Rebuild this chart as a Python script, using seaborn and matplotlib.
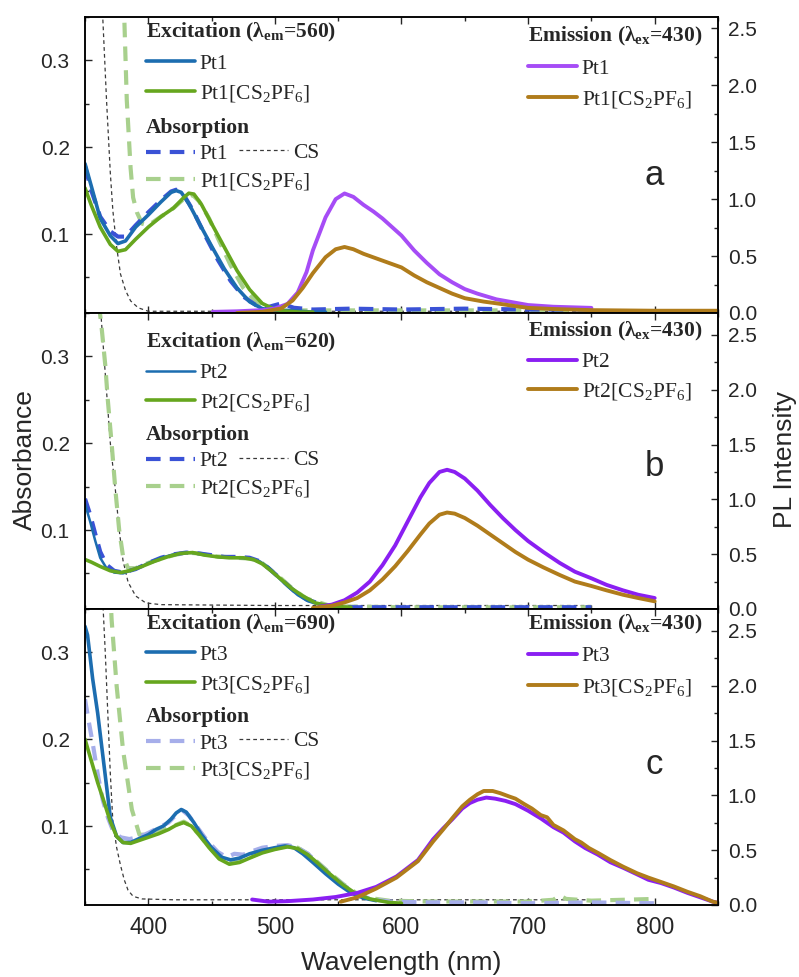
import numpy as np
import pandas as pd
import matplotlib
matplotlib.use("Agg")
import matplotlib.pyplot as plt
from matplotlib.ticker import MultipleLocator, FixedLocator
import seaborn as sns

# ---------------- DATA ----------------
# Panel a (Pt1)
a_ex_pt_x = [350, 355, 362, 370, 376, 382, 390, 400, 410, 418, 422, 426, 432, 440, 450, 460, 470, 480, 490, 500, 510, 520, 530, 540]
a_ex_pt_y = [0.181, 0.155, 0.118, 0.098, 0.089, 0.092, 0.108, 0.122, 0.137, 0.148, 0.150, 0.148, 0.135, 0.113, 0.086, 0.060, 0.038, 0.022, 0.014, 0.012, 0.012, 0.011, 0.010, 0.010]
a_ex_cs_x = [350, 355, 362, 370, 376, 382, 390, 400, 410, 420, 428, 432, 436, 442, 450, 460, 470, 480, 490, 500, 510, 520, 530]
a_ex_cs_y = [0.153, 0.133, 0.108, 0.088, 0.080, 0.082, 0.094, 0.108, 0.120, 0.130, 0.142, 0.147, 0.146, 0.134, 0.112, 0.085, 0.058, 0.036, 0.020, 0.013, 0.011, 0.010, 0.010]
a_abs_pt_x = [350, 355, 362, 370, 376, 382, 390, 400, 410, 418, 422, 428, 435, 445, 455, 465, 475, 485, 495, 505, 515, 530, 560, 600, 650, 700, 750]
a_abs_pt_y = [0.178, 0.150, 0.120, 0.103, 0.097, 0.097, 0.110, 0.125, 0.139, 0.149, 0.151, 0.145, 0.128, 0.098, 0.070, 0.046, 0.028, 0.018, 0.016, 0.020, 0.015, 0.013, 0.014, 0.013, 0.014, 0.013, 0.013]
a_abs_cs_x = [379, 381, 383, 386, 388, 391, 395, 400, 410, 420, 430, 435, 440, 448, 455, 465, 475, 485, 495, 510, 550, 600, 650, 700, 750]
a_abs_cs_y = [0.420, 0.350, 0.254, 0.176, 0.142, 0.125, 0.112, 0.110, 0.120, 0.130, 0.143, 0.145, 0.138, 0.118, 0.095, 0.064, 0.038, 0.022, 0.014, 0.012, 0.012, 0.012, 0.012, 0.012, 0.012]
a_cs_x = [362, 364, 367, 370, 372, 375, 378, 382, 386, 392, 400, 450, 500, 600, 700, 750]
a_cs_y = [0.420, 0.350, 0.254, 0.170, 0.127, 0.085, 0.054, 0.035, 0.023, 0.015, 0.011, 0.011, 0.011, 0.011, 0.011, 0.011]
a_em_pt_x = [451, 470, 490, 500, 510, 518, 525, 530, 540, 548, 555, 562, 570, 578, 585, 592, 600, 610, 620, 630, 640, 650, 660, 675, 690, 700, 720, 750]
a_em_pt_y = [0.010, 0.015, 0.025, 0.040, 0.080, 0.180, 0.360, 0.550, 0.840, 1.000, 1.050, 1.020, 0.950, 0.890, 0.830, 0.760, 0.680, 0.550, 0.440, 0.340, 0.270, 0.210, 0.170, 0.120, 0.090, 0.070, 0.055, 0.045]
a_em_cs_x = [470, 490, 505, 514, 522, 530, 540, 548, 555, 562, 570, 580, 590, 600, 610, 620, 630, 640, 650, 665, 675, 690, 700, 720, 750, 800, 850]
a_em_cs_y = [0.000, 0.010, 0.040, 0.110, 0.220, 0.350, 0.490, 0.560, 0.580, 0.560, 0.520, 0.480, 0.440, 0.400, 0.330, 0.270, 0.220, 0.170, 0.130, 0.100, 0.085, 0.060, 0.045, 0.035, 0.025, 0.020, 0.020]

# Panel b (Pt2)
b_ex_pt_x = [350, 354, 358, 362, 367, 373, 380, 390, 400, 410, 420, 430, 440, 450, 460, 470, 480, 488, 495, 502, 510, 518, 526, 535, 545]
b_ex_pt_y = [0.130, 0.110, 0.088, 0.068, 0.056, 0.051, 0.050, 0.055, 0.062, 0.068, 0.072, 0.074, 0.073, 0.070, 0.068, 0.068, 0.067, 0.064, 0.057, 0.046, 0.035, 0.025, 0.018, 0.014, 0.012]
b_ex_cs_x = [350, 355, 362, 370, 378, 385, 395, 405, 415, 425, 435, 445, 455, 465, 475, 483, 490, 497, 505, 513, 522, 532, 545, 560]
b_ex_cs_y = [0.066, 0.063, 0.058, 0.053, 0.051, 0.053, 0.058, 0.064, 0.069, 0.073, 0.074, 0.071, 0.069, 0.068, 0.068, 0.066, 0.061, 0.053, 0.043, 0.033, 0.024, 0.016, 0.012, 0.011]
b_abs_pt_x = [350, 354, 358, 362, 367, 373, 380, 390, 400, 410, 420, 430, 440, 450, 460, 470, 480, 488, 495, 505, 515, 525, 540, 560, 600, 650, 700, 750]
b_abs_pt_y = [0.136, 0.118, 0.096, 0.075, 0.060, 0.053, 0.051, 0.055, 0.062, 0.068, 0.072, 0.074, 0.073, 0.071, 0.069, 0.069, 0.068, 0.064, 0.056, 0.043, 0.030, 0.020, 0.013, 0.011, 0.011, 0.011, 0.011, 0.011]
b_abs_cs_x = [361, 363, 366, 368, 371, 374, 377, 380, 384, 390, 400, 410, 420, 430, 440, 450, 460, 470, 480, 488, 495, 505, 515, 525, 545, 600, 650, 700, 750]
b_abs_cs_y = [0.360, 0.335, 0.290, 0.250, 0.200, 0.146, 0.100, 0.070, 0.056, 0.056, 0.062, 0.067, 0.071, 0.074, 0.073, 0.070, 0.069, 0.068, 0.067, 0.064, 0.056, 0.044, 0.031, 0.021, 0.012, 0.011, 0.011, 0.011, 0.011]
b_cs_x = [362, 364, 367, 370, 374, 377, 380, 384, 390, 398, 410, 500, 600, 750]
b_cs_y = [0.360, 0.320, 0.260, 0.200, 0.146, 0.100, 0.065, 0.040, 0.024, 0.016, 0.014, 0.013, 0.013, 0.013]
b_em_pt_x = [535, 545, 555, 565, 575, 585, 595, 605, 615, 622, 630, 636, 642, 650, 660, 670, 680, 690, 700, 712, 725, 737, 750, 762, 775, 787, 800]
b_em_pt_y = [0.020, 0.040, 0.080, 0.150, 0.250, 0.400, 0.580, 0.800, 1.020, 1.150, 1.250, 1.270, 1.250, 1.190, 1.080, 0.950, 0.830, 0.720, 0.620, 0.520, 0.420, 0.340, 0.280, 0.220, 0.170, 0.130, 0.100]
b_em_cs_x = [530, 545, 555, 565, 575, 585, 595, 605, 615, 622, 630, 636, 642, 650, 660, 670, 680, 690, 700, 712, 725, 737, 750, 762, 775, 787, 800]
b_em_cs_y = [0.010, 0.030, 0.060, 0.100, 0.170, 0.270, 0.390, 0.530, 0.680, 0.780, 0.860, 0.880, 0.870, 0.830, 0.760, 0.680, 0.600, 0.520, 0.450, 0.380, 0.310, 0.250, 0.210, 0.170, 0.130, 0.100, 0.070]

# Panel c (Pt3)
c_ex_pt_x = [350, 352, 356, 360, 365, 370, 375, 380, 386, 392, 400, 406, 412, 418, 422, 426, 430, 436, 442, 450, 458, 465, 472, 480, 490, 500, 508, 515, 522, 530, 540, 550, 560, 570, 580]
c_ex_pt_y = [0.330, 0.320, 0.270, 0.230, 0.170, 0.110, 0.088, 0.081, 0.081, 0.085, 0.090, 0.096, 0.100, 0.108, 0.115, 0.119, 0.116, 0.104, 0.090, 0.075, 0.064, 0.061, 0.063, 0.068, 0.072, 0.075, 0.077, 0.075, 0.068, 0.058, 0.045, 0.033, 0.023, 0.017, 0.014]
c_ex_cs_x = [350, 355, 360, 365, 370, 375, 380, 386, 392, 400, 408, 416, 422, 428, 434, 440, 448, 456, 464, 472, 480, 490, 500, 510, 518, 526, 534, 544, 554, 564, 575, 590, 600]
c_ex_cs_y = [0.200, 0.175, 0.150, 0.128, 0.105, 0.088, 0.081, 0.080, 0.083, 0.087, 0.091, 0.096, 0.101, 0.104, 0.100, 0.090, 0.075, 0.062, 0.056, 0.058, 0.063, 0.069, 0.073, 0.076, 0.074, 0.067, 0.057, 0.044, 0.032, 0.022, 0.016, 0.012, 0.011]
c_abs_pt_x = [350, 353, 356, 360, 364, 368, 372, 378, 385, 392, 400, 408, 416, 422, 427, 432, 438, 446, 455, 462, 468, 475, 482, 490, 500, 510, 518, 526, 535, 545, 555, 565, 575, 590, 620, 660, 700, 750, 800]
c_abs_pt_y = [0.246, 0.220, 0.196, 0.160, 0.130, 0.110, 0.095, 0.087, 0.085, 0.087, 0.092, 0.098, 0.104, 0.113, 0.118, 0.112, 0.100, 0.084, 0.070, 0.064, 0.068, 0.067, 0.071, 0.075, 0.077, 0.078, 0.075, 0.068, 0.056, 0.043, 0.031, 0.022, 0.016, 0.013, 0.012, 0.012, 0.011, 0.012, 0.011]
c_abs_cs_x = [369, 371, 375, 380, 387, 393, 400, 410, 420, 428, 434, 440, 448, 456, 464, 472, 480, 490, 500, 510, 518, 526, 534, 544, 554, 564, 575, 590, 620, 660, 700, 720, 725, 730, 750, 800]
c_abs_cs_y = [0.400, 0.338, 0.261, 0.188, 0.119, 0.090, 0.090, 0.094, 0.100, 0.105, 0.100, 0.090, 0.076, 0.063, 0.057, 0.059, 0.064, 0.070, 0.074, 0.077, 0.075, 0.068, 0.058, 0.045, 0.033, 0.023, 0.017, 0.014, 0.013, 0.013, 0.013, 0.015, 0.020, 0.016, 0.014, 0.016]
c_cs_x = [362, 364, 366, 368, 370, 372, 375, 378, 381, 384, 388, 395, 420, 500, 600, 700, 750]
c_cs_y = [0.400, 0.360, 0.300, 0.230, 0.160, 0.105, 0.075, 0.055, 0.038, 0.026, 0.019, 0.016, 0.015, 0.015, 0.015, 0.015, 0.015]
c_em_pt_x = [482, 495, 510, 530, 548, 565, 580, 596, 613, 625, 633, 640, 648, 654, 660, 667, 674, 682, 690, 700, 710, 720, 728, 737, 745, 755, 765, 775, 786, 795, 805, 815, 826, 836, 846, 850]
c_em_pt_y = [0.050, 0.030, 0.035, 0.050, 0.073, 0.110, 0.165, 0.260, 0.410, 0.600, 0.700, 0.780, 0.880, 0.930, 0.960, 0.980, 0.970, 0.950, 0.920, 0.860, 0.790, 0.710, 0.660, 0.580, 0.520, 0.460, 0.390, 0.340, 0.280, 0.230, 0.200, 0.160, 0.110, 0.070, 0.030, 0.020]
c_em_cs_x = [552, 565, 580, 596, 613, 625, 633, 640, 648, 654, 660, 665, 672, 678, 685, 690, 697, 703, 710, 715, 720, 728, 737, 742, 748, 756, 765, 775, 786, 795, 805, 815, 826, 836, 846, 850]
c_em_cs_y = [0.030, 0.070, 0.150, 0.250, 0.400, 0.580, 0.690, 0.790, 0.900, 0.960, 1.010, 1.040, 1.040, 1.020, 0.990, 0.970, 0.920, 0.880, 0.820, 0.800, 0.730, 0.680, 0.600, 0.570, 0.520, 0.470, 0.410, 0.350, 0.290, 0.250, 0.210, 0.170, 0.120, 0.080, 0.030, 0.020]

panel_letters = ["a", "b", "c"]
panel_names = ["Pt1", "Pt2", "Pt3"]
em_wavelengths = [560, 620, 690]
ex_wavelength = 430
x_ticks = [400, 500, 600, 700, 800]
left_ticks = [0.1, 0.2, 0.3]
right_ticks = [0.0, 0.5, 1.0, 1.5, 2.0, 2.5]

# ---------------- STYLE ----------------
sns.set_style("ticks")
plt.rcParams["font.family"] = ["Liberation Sans", "DejaVu Sans"]
plt.rcParams["mathtext.fontset"] = "custom"
plt.rcParams["mathtext.rm"] = "Liberation Serif"
plt.rcParams["mathtext.it"] = "Liberation Serif:italic"
plt.rcParams["mathtext.bf"] = "Liberation Serif:bold"

C_EX_PT = "#1c6db0"
C_EX_CS = "#66a61e"
C_ABS_PT = ["#3a52d6", "#3a52d6", "#a6aeea"]
C_ABS_CS = "#a8d08d"
C_CS = "#3a3a3a"
C_EM_PT = ["#a64cf6", "#8a1ff2", "#8a1ff2"]
C_EM_CS = "#b07c1b"
DASH = (0, (3.5, 2.2))

fig = plt.figure(figsize=(7.99, 9.77), dpi=100)
gs = fig.add_gridspec(3, 1, left=0.1064, right=0.8986, top=0.9826, bottom=0.0737, hspace=0.0)

panels = [
    dict(ex_pt=(a_ex_pt_x, a_ex_pt_y), ex_cs=(a_ex_cs_x, a_ex_cs_y), abs_pt=(a_abs_pt_x, a_abs_pt_y),
         abs_cs=(a_abs_cs_x, a_abs_cs_y), cs=(a_cs_x, a_cs_y), em_pt=(a_em_pt_x, a_em_pt_y), em_cs=(a_em_cs_x, a_em_cs_y),
         rtop=2.6, ex_lw=2.6, ex_y=0.985, abs_y=0.660, cs_y=0.542, em_y=0.972, em_ls=0.48, letter_y=0.465),
    dict(ex_pt=(b_ex_pt_x, b_ex_pt_y), ex_cs=(b_ex_cs_x, b_ex_cs_y), abs_pt=(b_abs_pt_x, b_abs_pt_y),
         abs_cs=(b_abs_cs_x, b_abs_cs_y), cs=(b_cs_x, b_cs_y), em_pt=(b_em_pt_x, b_em_pt_y), em_cs=(b_em_cs_x, b_em_cs_y),
         rtop=2.7, ex_lw=1.8, ex_y=0.939, abs_y=0.623, cs_y=0.503, em_y=0.975, em_ls=0.4, letter_y=0.48),
    dict(ex_pt=(c_ex_pt_x, c_ex_pt_y), ex_cs=(c_ex_cs_x, c_ex_cs_y), abs_pt=(c_abs_pt_x, c_abs_pt_y),
         abs_cs=(c_abs_cs_x, c_abs_cs_y), cs=(c_cs_x, c_cs_y), em_pt=(c_em_pt_x, c_em_pt_y), em_cs=(c_em_cs_x, c_em_cs_y),
         rtop=2.7, ex_lw=2.6, ex_y=0.987, abs_y=0.668, cs_y=0.553, em_y=0.987, em_ls=0.48, letter_y=0.475),
]


def draw(ax, xy, **kw):
    x, y = xy
    sns.lineplot(x=x, y=y, ax=ax, estimator=None, sort=False, legend=False, **kw)
    return ax.lines[-1]


serif_prop = {"family": "Liberation Serif", "size": 15.5}
title_prop = {"family": "Liberation Serif", "weight": "bold", "size": 15.5}
leg_kw = dict(frameon=False, prop=serif_prop, title_fontproperties=title_prop, alignment="left",
              handlelength=2.3, handletextpad=0.2, borderaxespad=0.0, borderpad=0.0)

for i, p in enumerate(panels):
    ax = fig.add_subplot(gs[i])
    ax2 = ax.twinx()
    name = panel_names[i]

    h_cs = draw(ax, p["cs"], color=C_CS, linewidth=0.9, linestyle=(0, (3, 2.5)))
    h_abs_cs = draw(ax, p["abs_cs"], color=C_ABS_CS, linewidth=3.0, linestyle=DASH)
    h_abs_pt = draw(ax, p["abs_pt"], color=C_ABS_PT[i], linewidth=3.0, linestyle=DASH)
    h_ex_pt = draw(ax, p["ex_pt"], color=C_EX_PT, linewidth=p["ex_lw"])
    h_ex_cs = draw(ax, p["ex_cs"], color=C_EX_CS, linewidth=2.6)
    h_em_pt = draw(ax2, p["em_pt"], color=C_EM_PT[i], linewidth=2.8)
    h_em_cs = draw(ax2, p["em_cs"], color=C_EM_CS, linewidth=2.8)

    ax.set_xlim(350, 850)
    ax.set_ylim(0.009, 0.35)
    ax2.set_ylim(0, p["rtop"])
    ax.yaxis.set_major_locator(FixedLocator(left_ticks))
    ax.yaxis.set_minor_locator(MultipleLocator(0.05))
    ax2.yaxis.set_major_locator(FixedLocator(right_ticks))
    ax2.yaxis.set_minor_locator(MultipleLocator(0.25))
    ax.xaxis.set_major_locator(FixedLocator(x_ticks))
    ax.xaxis.set_minor_locator(MultipleLocator(50))
    ax.set_xlabel("")
    ax.set_ylabel("")
    ax2.set_ylabel("")
    ax.tick_params(axis="both", which="both", direction="in", top=True, right=False, width=1.0)
    ax.tick_params(axis="both", which="major", length=5)
    ax.tick_params(axis="both", which="minor", length=3)
    ax.tick_params(axis="y", labelsize=15, pad=11)
    ax.tick_params(axis="x", labelsize=16.5, pad=8)
    ax2.tick_params(axis="y", which="both", direction="in", width=1.0, labelsize=15, pad=7)
    ax2.tick_params(axis="y", which="major", length=5)
    ax2.tick_params(axis="y", which="minor", length=3)
    ax.yaxis.set_major_formatter(matplotlib.ticker.FormatStrFormatter("%.1f"))
    ax2.yaxis.set_major_formatter(matplotlib.ticker.FormatStrFormatter("%.1f"))
    if i < 2:
        ax.tick_params(axis="x", labelbottom=False)
    for a in (ax, ax2):
        for s in a.spines.values():
            s.set_linewidth(1.1)
            s.set_color("black")

    cs_label = name + "[CS$_2$PF$_6$]"
    leg1 = ax2.legend([h_ex_pt, h_ex_cs], [name, cs_label],
                      title="Excitation (λ$_{\\mathbf{em}}$=%d)" % em_wavelengths[i],
                      loc="upper left", bbox_to_anchor=(0.096, p["ex_y"]), labelspacing=0.42, **leg_kw)
    ax2.add_artist(leg1)
    leg2 = ax2.legend([h_abs_pt, h_abs_cs], [name, cs_label], title="Absorption",
                      loc="upper left", bbox_to_anchor=(0.096, p["abs_y"]), labelspacing=0.3, **leg_kw)
    ax2.add_artist(leg2)
    leg4 = ax2.legend([h_cs], ["CS"], loc="center left", bbox_to_anchor=(0.243, p["cs_y"]),
                      labelspacing=0.3, **leg_kw)
    ax2.add_artist(leg4)
    leg3 = ax2.legend([h_em_pt, h_em_cs], [name, cs_label],
                      title="Emission (λ$_{\\mathbf{ex}}$=%d)" % ex_wavelength,
                      loc="upper right", bbox_to_anchor=(0.975, p["em_y"]), labelspacing=p["em_ls"], **leg_kw)

    ax.text(0.9, p["letter_y"], panel_letters[i], transform=ax.transAxes,
            fontsize=25, ha="center", va="center")

fig.text(25 / 799, 1 - 460 / 977, "Absorbance", rotation=90, ha="center", va="center", fontsize=19)
fig.text(785 / 799, 1 - 460 / 977, "PL Intensity", rotation=90, ha="center", va="center", fontsize=19)
fig.text(401 / 799, 1 - 963 / 977, "Wavelength (nm)", ha="center", va="center", fontsize=19)

fig.savefig("out.png", dpi=100)
